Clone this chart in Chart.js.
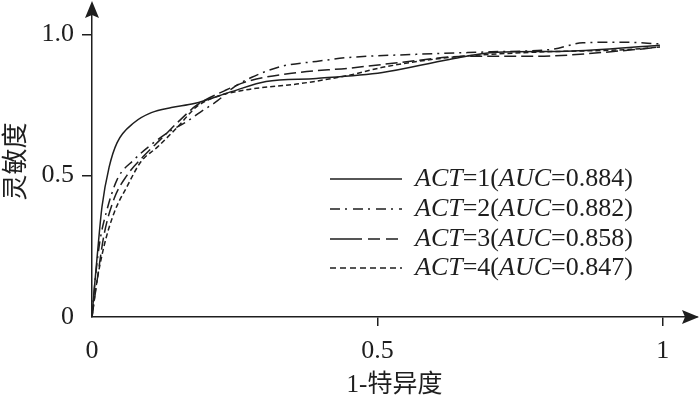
<!DOCTYPE html>
<html>
<head>
<meta charset="utf-8">
<script src="https://cdn.jsdelivr.net/npm/chart.js@4.4.1/dist/chart.umd.min.js"></script>
<style>
  html, body { margin: 0; padding: 0; background: #fff; }
  #wrap { width: 700px; height: 405px; }
</style>
</head>
<body>
<div id="wrap"><canvas id="roc"></canvas></div>
<script>
// ROC curves, values (x = 1-特异度, y = 灵敏度)
const act1X = [0, 0.004, 0.009, 0.0175, 0.03, 0.044, 0.074, 0.104, 0.139, 0.179, 0.246, 0.305, 0.393, 0.509, 0.626, 0.709, 0.832, 0.995];
const act1Y = [0, 0.1, 0.213, 0.39, 0.53, 0.617, 0.688, 0.723, 0.741, 0.755, 0.798, 0.833, 0.844, 0.865, 0.911, 0.936, 0.94, 0.961];

const act2X = [0, 0.006, 0.014, 0.025, 0.044, 0.074, 0.104, 0.135, 0.165, 0.19, 0.22, 0.25, 0.28, 0.333, 0.393, 0.45, 0.568, 0.7, 0.807, 0.86, 0.93, 0.995];
const act2Y = [0, 0.14, 0.27, 0.37, 0.486, 0.557, 0.61, 0.655, 0.69, 0.725, 0.765, 0.815, 0.848, 0.887, 0.904, 0.918, 0.929, 0.938, 0.947, 0.97, 0.972, 0.966];

const act3X = [0, 0.009, 0.021, 0.039, 0.061, 0.091, 0.121, 0.156, 0.184, 0.232, 0.275, 0.363, 0.45, 0.539, 0.656, 0.772, 0.947, 0.995];
const act3Y = [0, 0.13, 0.29, 0.42, 0.5, 0.57, 0.63, 0.7, 0.75, 0.8, 0.835, 0.865, 0.88, 0.9, 0.922, 0.922, 0.945, 0.955];

const act4X = [0, 0.007, 0.021, 0.039, 0.061, 0.086, 0.114, 0.149, 0.184, 0.219, 0.275, 0.363, 0.45, 0.509, 0.626, 0.77, 0.947, 0.995];
const act4Y = [0, 0.106, 0.25, 0.37, 0.46, 0.55, 0.6, 0.67, 0.745, 0.78, 0.805, 0.825, 0.855, 0.883, 0.918, 0.936, 0.947, 0.955];

const actLabels = ['1', '2', '3', '4'];
const aucValues = ['0.884', '0.882', '0.858', '0.847'];

const xTicks = [0, 0.5, 1];
const xTickLabels = ['0', '0.5', '1'];
const yTicks = [0, 0.5, 1];
const yTickLabels = ['0', '0.5', '1.0'];

const ink = '#1e1e1e';
const serif = '"Liberation Serif", "Noto Sans CJK SC", serif';
const dashes = [[], [10, 5, 2, 5], [12, 5], [5, 3]];
const legendDashes = [[], [10, 5, 2, 6], [32, 6, 12, 6, 12, 6], [6, 4]];

function toPoints(xs, ys) {
  return xs.map((x, i) => ({ x: x, y: ys[i] }));
}

const series = [
  toPoints(act1X, act1Y),
  toPoints(act2X, act2Y),
  toPoints(act3X, act3Y),
  toPoints(act4X, act4Y),
];

const arrows = {
  id: 'arrows',
  afterDraw(chart) {
    const { ctx, chartArea } = chart;
    ctx.save();
    ctx.fillStyle = ink;
    // y axis arrow
    ctx.beginPath();
    ctx.moveTo(chartArea.left, chartArea.top - 5);
    ctx.lineTo(chartArea.left - 7, chartArea.top + 12);
    ctx.lineTo(chartArea.left, chartArea.top + 9);
    ctx.lineTo(chartArea.left + 7, chartArea.top + 12);
    ctx.closePath();
    ctx.fill();
    // x axis arrow
    ctx.beginPath();
    ctx.moveTo(chartArea.right + 2, chartArea.bottom);
    ctx.lineTo(chartArea.right - 15, chartArea.bottom - 7);
    ctx.lineTo(chartArea.right - 12, chartArea.bottom);
    ctx.lineTo(chartArea.right - 15, chartArea.bottom + 7);
    ctx.closePath();
    ctx.fill();
    ctx.restore();
  },
};

const mixedLegend = {
  id: 'mixedLegend',
  afterDraw(chart) {
    const { ctx } = chart;
    const lineX0 = 330, lineX1 = 402, textX = 415;
    const rowY = [179, 209, 239, 268];
    ctx.save();
    ctx.textBaseline = 'middle';
    ctx.fillStyle = ink;
    actLabels.forEach((a, i) => {
      ctx.strokeStyle = ink;
      ctx.lineWidth = 1.5;
      ctx.setLineDash(legendDashes[i]);
      ctx.beginPath();
      ctx.moveTo(lineX0, rowY[i]);
      ctx.lineTo(lineX1, rowY[i]);
      ctx.stroke();
      ctx.setLineDash([]);
      const parts = [
        ['ACT', true], ['=' + a + '(', false], ['AUC', true], ['=' + aucValues[i] + ')', false],
      ];
      let x = textX;
      parts.forEach(([t, it]) => {
        ctx.font = (it ? 'italic ' : '') + '26px ' + serif;
        ctx.fillText(t, x, rowY[i]);
        x += ctx.measureText(t).width;
      });
    });
    ctx.restore();
  },
};

const tickColor = (ctx) => (ctx.tick && ctx.tick.value === 0 ? 'rgba(0,0,0,0)' : ink);

new Chart(document.getElementById('roc'), {
  type: 'line',
  data: {
    datasets: series.map((pts, i) => ({
      label: 'ACT=' + actLabels[i] + '(AUC=' + aucValues[i] + ')',
      data: pts,
      borderColor: ink,
      borderWidth: 1.5,
      borderDash: dashes[i],
      pointRadius: 0,
      fill: false,
      cubicInterpolationMode: 'monotone',
    })),
  },
  options: {
    responsive: true,
    maintainAspectRatio: false,
    animation: false,
    layout: { padding: { top: 6, right: 3, left: 0, bottom: 0 } },
    plugins: {
      legend: { display: false },
      tooltip: { enabled: false },
    },
    scales: {
      x: {
        type: 'linear',
        min: 0,
        max: 1.06,
        afterBuildTicks: (s) => { s.ticks = xTicks.map((v) => ({ value: v })); },
        afterFit: (s) => { s.height = 88; s.paddingLeft = 0; s.paddingRight = 0; },
        ticks: {
          callback: (v, i) => xTickLabels[i],
          color: ink,
          padding: 10,
          maxRotation: 0,
          font: { family: serif, size: 26 },
        },
        grid: { drawOnChartArea: false, drawTicks: true, tickLength: 9, color: tickColor, lineWidth: 1.5 },
        border: { color: ink, width: 1.5 },
        title: {
          display: true,
          text: '1-特异度',
          color: ink,
          font: { family: serif, size: 25 },
          padding: { top: 0, bottom: 5 },
        },
      },
      y: {
        min: 0,
        max: 1.1,
        afterBuildTicks: (s) => { s.ticks = yTicks.map((v) => ({ value: v })); },
        afterFit: (s) => { s.width = 92; s.paddingTop = 0; s.paddingBottom = 0; },
        ticks: {
          callback: (v, i) => yTickLabels[i],
          color: ink,
          padding: 8,
          font: { family: serif, size: 26 },
        },
        grid: { drawOnChartArea: false, drawTicks: true, tickLength: 10, color: tickColor, lineWidth: 1.5 },
        border: { color: ink, width: 1.5 },
        title: {
          display: true,
          text: '灵敏度',
          color: ink,
          font: { family: serif, size: 26 },
          padding: { top: 2, bottom: 0 },
        },
      },
    },
  },
  plugins: [arrows, mixedLegend],
});
</script>
</body>
</html>
